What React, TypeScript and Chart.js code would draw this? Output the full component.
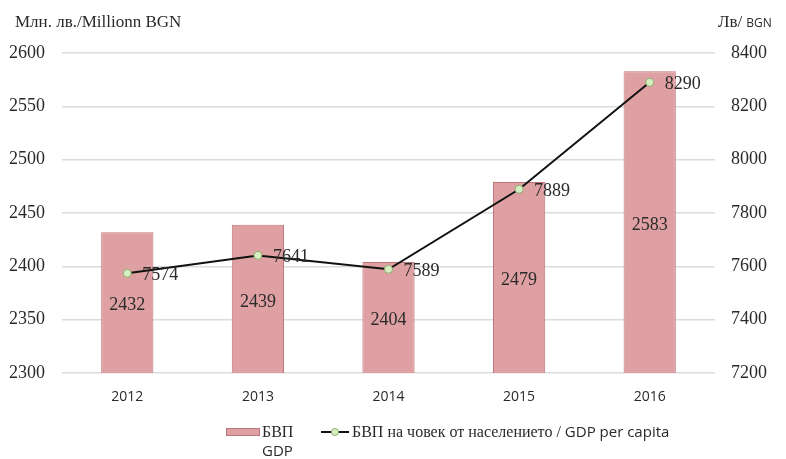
import React, { useEffect, useRef } from "react";
import { Chart, registerables } from "chart.js";

Chart.register(...registerables);

const years = ["2012", "2013", "2014", "2015", "2016"];
const gdp = [2432, 2439, 2404, 2479, 2583];
const gdpPerCapita = [7574, 7641, 7589, 7889, 8290];
const leftTicks = [2300, 2350, 2400, 2450, 2500, 2550, 2600];
const rightTicks = [7200, 7400, 7600, 7800, 8000, 8200, 8400];

const SERIF = "'Liberation Serif', 'DejaVu Serif', serif";
const SANS = "'Open Sans', 'Liberation Sans', sans-serif";
const BAR_FILL = "rgb(222,160,162)";
const BAR_BORDER = "rgb(192,118,120)";
const TEXT = "#2a2a2a";

const overlay = {
  id: "overlay",
  afterDatasetsDraw(chart: any) {
    const ctx = chart.ctx;
    ctx.save();
    ctx.fillStyle = TEXT;
    // bar labels
    const barMeta = chart.getDatasetMeta(0);
    const basePx = chart.scales.y.getPixelForValue(leftTicks[0]);
    ctx.font = `18px ${SERIF}`;
    ctx.textAlign = "center";
    ctx.textBaseline = "middle";
    barMeta.data.forEach((el: any, i: number) => {
      const mid = (el.y + basePx) / 2;
      ctx.fillText(String(gdp[i]), el.x, mid + 3);
    });
    // line labels
    const lineMeta = chart.getDatasetMeta(1);
    ctx.textAlign = "left";
    lineMeta.data.forEach((el: any, i: number) => {
      ctx.fillText(String(gdpPerCapita[i]), el.x + 15, el.y + 2);
    });
    // axis titles
    ctx.font = `17px ${SERIF}`;
    ctx.textBaseline = "middle";
    ctx.fillText("Млн. лв./Millionn BGN", 15, 23);
    ctx.fillText("Лв/", 718, 23);
    const w = ctx.measureText("Лв/").width;
    ctx.font = `12px ${SANS}`;
    ctx.fillText("BGN", 718 + w + 4, 24);

    // legend
    const ly = 432;
    ctx.fillStyle = BAR_FILL;
    ctx.strokeStyle = BAR_BORDER;
    ctx.lineWidth = 1;
    ctx.fillRect(226, ly - 4, 34, 8);
    ctx.strokeRect(226.5, ly - 3.5, 33, 7);
    ctx.fillStyle = TEXT;
    ctx.font = `16px ${SERIF}`;
    ctx.fillText("БВП", 262, ly + 1);
    ctx.font = `15px ${SANS}`;
    ctx.fillText("GDP", 262, ly + 20);

    ctx.strokeStyle = "#111";
    ctx.lineWidth = 2;
    ctx.beginPath();
    ctx.moveTo(321, ly);
    ctx.lineTo(349, ly);
    ctx.stroke();
    ctx.beginPath();
    ctx.arc(335, ly, 3.5, 0, Math.PI * 2);
    ctx.fillStyle = "rgb(215,238,195)";
    ctx.fill();
    ctx.strokeStyle = "rgb(140,175,110)";
    ctx.lineWidth = 1;
    ctx.stroke();
    ctx.fillStyle = TEXT;
    ctx.font = `16px ${SERIF}`;
    const part1 = "БВП на човек от населението / ";
    ctx.fillText(part1, 352, ly + 1);
    const pw = ctx.measureText(part1).width;
    ctx.font = `15px ${SANS}`;
    ctx.fillText("GDP per capita", 352 + pw, ly + 1);
    ctx.restore();
  },
};

export default function App() {
  const ref = useRef<HTMLCanvasElement | null>(null);
  useEffect(() => {
    document.body.style.margin = "0";
    const chart = new Chart(ref.current as HTMLCanvasElement, {
      data: {
        labels: years,
        datasets: [
          {
            type: "bar",
            label: "БВП GDP",
            data: gdp,
            backgroundColor: BAR_FILL,
            borderColor: BAR_BORDER,
            borderWidth: 1,
            categoryPercentage: 0.8,
            barPercentage: 0.5,
            yAxisID: "y",
            order: 2,
          },
          {
            type: "line",
            label: "БВП на човек от населението / GDP per capita",
            data: gdpPerCapita,
            borderColor: "#111",
            borderWidth: 2,
            pointRadius: 4,
            pointBackgroundColor: "rgb(215,238,195)",
            pointBorderColor: "rgb(140,175,110)",
            pointBorderWidth: 1,
            tension: 0,
            yAxisID: "y1",
            order: 1,
          },
        ],
      } as any,
      options: {
        animation: false,
        responsive: false,
        layout: { padding: { top: 53, left: 0, right: 0, bottom: 0 } },
        plugins: { legend: { display: false }, tooltip: { enabled: false } },
        scales: {
          x: {
            grid: { display: false },
            border: { display: false },
            ticks: { color: TEXT, font: { family: SANS, size: 14 }, padding: 8 },
            afterFit: (s: any) => {
              s.height = 86;
            },
          },
          y: {
            position: "left",
            min: 2300,
            max: 2600,
            afterBuildTicks: (s: any) => {
              s.ticks = leftTicks.map((v) => ({ value: v }));
            },
            grid: { color: "#dcdcdc", lineWidth: 1.5, drawTicks: false },
            border: { display: false },
            ticks: {
              color: TEXT,
              font: { family: SERIF, size: 18 },
              padding: 17,
              callback: (v: any) => String(v),
            },
            afterFit: (s: any) => {
              s.width = 62;
            },
          },
          y1: {
            position: "right",
            min: 7200,
            max: 8400,
            afterBuildTicks: (s: any) => {
              s.ticks = rightTicks.map((v) => ({ value: v }));
            },
            grid: { display: false, drawTicks: false },
            border: { display: false },
            ticks: {
              color: TEXT,
              font: { family: SERIF, size: 18 },
              padding: 16,
              callback: (v: any) => String(v),
            },
            afterFit: (s: any) => {
              s.width = 71;
            },
          },
        },
      } as any,
      plugins: [overlay],
    });
    return () => chart.destroy();
  }, []);
  return (
    <div style={{ position: "absolute", left: 0, top: 0, width: 786, height: 459, background: "#fff" }}>
      <canvas ref={ref} width={786} height={459} style={{ width: 786, height: 459 }} />
    </div>
  );
}
